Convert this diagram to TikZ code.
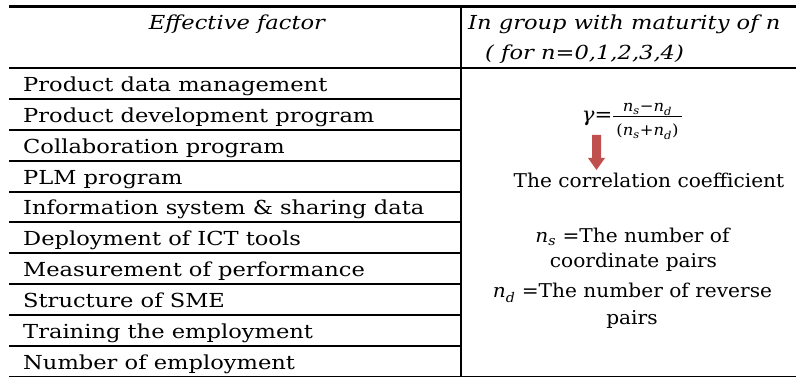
\documentclass[tikz,border=0pt]{standalone}
\usepackage{fontspec}
\setmainfont{DejaVu Serif}
\newfontfamily\widefont[FakeStretch=1.17]{DejaVu Serif}
\newfontfamily\bodyfont[FakeStretch=1.06]{DejaVu Serif}
\definecolor{arrowred}{HTML}{C0504D}
\newcommand{\vn}[1]{{\itshape n}\textsubscript{\itshape #1}}
\begin{document}
\begin{tikzpicture}[x=1pt,y=-1pt,
  cell/.style={font=\fontsize{19.3}{22}\widefont, inner sep=0pt, anchor=base west},
  head/.style={font=\fontsize{19.3}{22}\widefont\itshape, inner sep=0pt},
  mid/.style={font=\fontsize{19}{22}\bodyfont, inner sep=0pt, anchor=base},
  frac/.style={font=\fontsize{15.5}{18}\bodyfont, inner sep=0pt, anchor=base},
  thick rule/.style={line width=3.3pt},
  mid rule/.style={line width=2.2pt},
  row rule/.style={line width=2pt},
  thin rule/.style={line width=1.3pt}]
\useasboundingbox (0,0) rectangle (796,377);
% rules
\draw[thick rule] (9,6.7) -- (796,6.7);
\draw[mid rule] (9,68) -- (796,68);
\foreach \y in {99,130,161,192,222,253,284,315,346}
  \draw[row rule] (9,\y) -- (461,\y);
\draw[thin rule] (9,376.3) -- (796,376.3);
\draw[row rule] (461,5) -- (461,377);
% header
\node[head, anchor=base] (hleft) at (237,30) {Effective factor};
\node[head, anchor=base west] (hright1) at (468,30) {In group with maturity of n};
\node[head, anchor=base west] (hright2) at (485,60) {( for n=0,1,2,3,4)};
% rows
\foreach \t [count=\i from 0] in {Product data management, Product development program,
  Collaboration program, PLM program, Information system \& sharing data,
  Deployment of ICT tools, Measurement of performance, Structure of SME,
  Training the employment, Number of employment}
  \node[cell] (row\i) at (23,{68+30.85*\i+23.5}) {\t};
% formula
\node[font=\fontsize{20}{22}\bodyfont, inner sep=0pt, anchor=base east] (gam) at (612.5,122) {{\itshape γ}=};
\node[frac] (num) at (647.5,112) {\vn{s}−\vn{d}};
\node[frac] (den) at (647.5,136) {(\vn{s}+\vn{d})};
\draw[line width=1pt] (613,117) -- (682,117);
% arrow
\fill[arrowred] (592,135) -- (601,135) -- (601,158) -- (605,158) -- (596.5,170)
  -- (588,158) -- (592,158) -- cycle;
% right column text
\node[mid] (corr) at (649,188) {The correlation coefficient};
\node[mid] (ns) at (632.5,243) {\vn{s} =The number of};
\node[mid] (ns2) at (633.5,268) {coordinate pairs};
\node[mid] (nd) at (632.5,298) {\vn{d} =The number of reverse};
\node[mid] (nd2) at (632,324) {pairs};
\end{tikzpicture}
\end{document}
